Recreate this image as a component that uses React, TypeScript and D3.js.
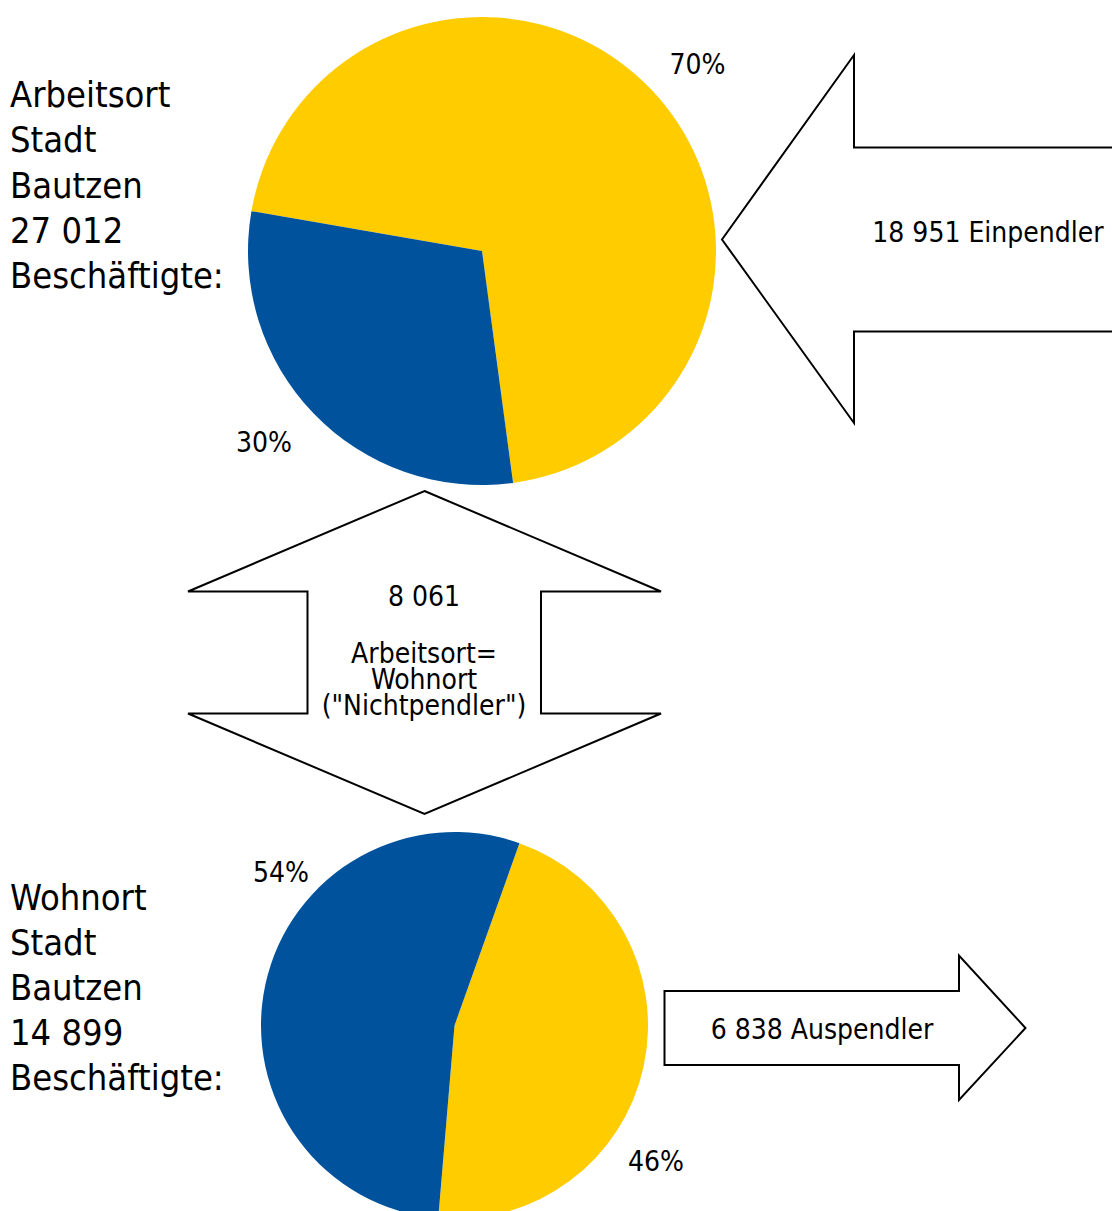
import React from "react";
import * as d3 from "d3";

// Data
const categories = ["Pendler", "Nichtpendler"];
const arbeitsortValues = [18951, 8061]; // Einpendler, Nichtpendler
const wohnortValues = [6838, 8061]; // Auspendler, Nichtpendler
const arbeitsortPctLabels = ["70%", "30%"];
const wohnortPctLabels = ["46%", "54%"];
const arbeitsortTitle = ["Arbeitsort", "Stadt", "Bautzen", "27 012", "Beschäftigte:"];
const wohnortTitle = ["Wohnort", "Stadt", "Bautzen", "14 899", "Beschäftigte:"];
const einpendlerLabel = "18 951 Einpendler";
const auspendlerLabel = "6 838 Auspendler";
const nichtpendlerLines = ["8 061", "", "Arbeitsort=", "Wohnort", "(\"Nichtpendler\")"];
const colors = ["#ffcc00", "#00529c"];

const W = 1112;
const H = 1211;
const FONT = "'DejaVu Sans Condensed', 'DejaVu Sans', sans-serif";

const deg = (d: number) => (d * Math.PI) / 180;

export default function App() {
  const topPie = d3
    .pie<number>()
    .sort(null)
    .startAngle(deg(-80.2))
    .endAngle(deg(-80.2 + 360))(arbeitsortValues);
  const botPie = d3
    .pie<number>()
    .sort(null)
    .startAngle(deg(19.6))
    .endAngle(deg(19.6 + 360))(wohnortValues);

  const topArc = d3.arc<d3.PieArcDatum<number>>().innerRadius(0).outerRadius(234);
  const botArc = d3.arc<d3.PieArcDatum<number>>().innerRadius(0).outerRadius(193.5);

  // arrows (shapes)
  const bigLeft: [number, number][] = [
    [722, 239.5],
    [854, 55],
    [854, 147.5],
    [1130, 147.5],
    [1130, 331.5],
    [854, 331.5],
    [854, 423],
  ];
  const dbl: [number, number][] = [
    [424.5, 491],
    [661, 591.5],
    [541, 591.5],
    [541, 713.5],
    [661, 713.5],
    [424.5, 814],
    [188, 713.5],
    [307.5, 713.5],
    [307.5, 591.5],
    [188, 591.5],
  ];
  const right: [number, number][] = [
    [664.5, 991],
    [959, 991],
    [959, 955.5],
    [1025.5, 1028],
    [959, 1100],
    [959, 1065],
    [664.5, 1065],
  ];
  const line = d3.line();
  const closed = (pts: [number, number][]) => line(pts) + "Z";

  return (
    <svg
      width={W}
      height={H}
      style={{ position: "absolute", left: 0, top: 0, background: "#fff" }}
      fontFamily={FONT}
    >
      <rect width={W} height={H} fill="#fff" />
      <g transform="translate(482,251)">
        {topPie.map((d, i) => (
          <path key={categories[i]} d={topArc(d) || ""} fill={colors[i]} />
        ))}
      </g>
      <g transform="translate(454.5,1025.5)">
        {botPie.map((d, i) => (
          <path key={categories[i]} d={botArc(d) || ""} fill={colors[i]} />
        ))}
      </g>

      <path d={closed(bigLeft)} fill="#fff" stroke="#000" strokeWidth={2} />
      <path d={closed(dbl)} fill="#fff" stroke="#000" strokeWidth={2} />
      <path d={closed(right)} fill="#fff" stroke="#000" strokeWidth={2} />

      {/* titles */}
      <text fontSize={36} fill="#000">
        {arbeitsortTitle.map((t, i) => (
          <tspan key={i} x={10} y={107 + i * 45.3}>
            {t}
          </tspan>
        ))}
      </text>
      <text fontSize={36} fill="#000">
        {wohnortTitle.map((t, i) => (
          <tspan key={i} x={10} y={910 + i * 45}>
            {t}
          </tspan>
        ))}
      </text>

      {/* percent labels */}
      <g fontSize={28} fill="#000" textAnchor="middle">
        <text x={697.5} y={74}>{arbeitsortPctLabels[0]}</text>
        <text x={264} y={452}>{arbeitsortPctLabels[1]}</text>
        <text x={281} y={882}>{wohnortPctLabels[1]}</text>
        <text x={656} y={1171}>{wohnortPctLabels[0]}</text>
      </g>

      <g fontSize={28} fill="#000" textAnchor="middle">
        <text x={988} y={241.5}>{einpendlerLabel}</text>
        <text x={822} y={1039}>{auspendlerLabel}</text>
        <text x={424} y={606}>{nichtpendlerLines[0]}</text>
        <text x={424} y={662.5}>{nichtpendlerLines[2]}</text>
        <text x={424} y={689}>{nichtpendlerLines[3]}</text>
        <text x={424} y={715}>{nichtpendlerLines[4]}</text>
      </g>
    </svg>
  );
}
